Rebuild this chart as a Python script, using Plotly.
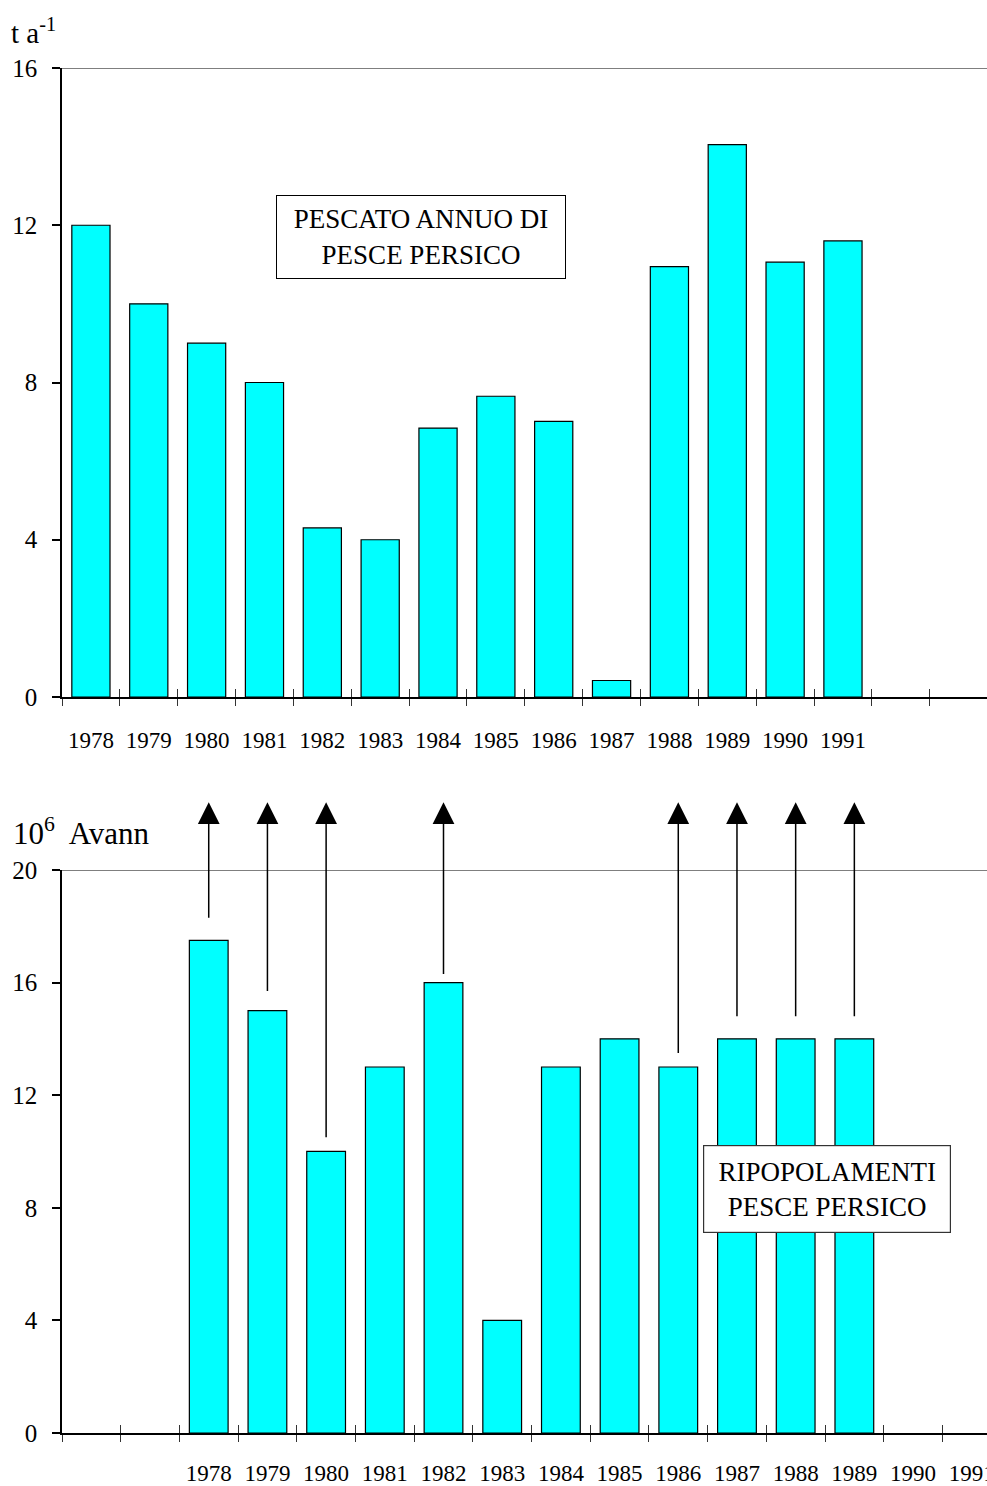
import plotly.graph_objects as go

# ---- data ----
catch_years = ["1978", "1979", "1980", "1981", "1982", "1983", "1984",
               "1985", "1986", "1987", "1988", "1989", "1990", "1991"]
catch_tons = [12.0, 10.0, 9.0, 8.0, 4.3, 4.0, 6.84, 7.65, 7.01, 0.42,
              10.95, 14.05, 11.06, 11.6]

stock_years = ["1978", "1979", "1980", "1981", "1982", "1983", "1984",
               "1985", "1986", "1987", "1988", "1989", "1990", "1991"]
stock_millions = [17.5, 15.0, 10.0, 13.0, 16.0, 4.0, 13.0, 14.0, 13.0,
                  14.0, 14.0, 14.0, None, None]

arrow_years = ["1978", "1979", "1980", "1982", "1986", "1987", "1988", "1989"]
arrow_tails = [18.0, 15.4, 10.2, 16.0, 13.2, 14.5, 14.5, 14.5]
arrow_tip = 22.4

top_cats = catch_years + [" ", "  "]
bot_cats = [" ", "  "] + stock_years

FONT = "Liberation Serif, Times New Roman, serif"
CYAN = "#00FFFF"

fig = go.Figure()
fig.add_trace(go.Bar(x=catch_years, y=catch_tons, xaxis="x", yaxis="y",
                     marker=dict(color=CYAN, line=dict(color="black", width=1.2)),
                     showlegend=False))
fig.add_trace(go.Bar(x=stock_years, y=stock_millions, xaxis="x2", yaxis="y2",
                     marker=dict(color=CYAN, line=dict(color="black", width=1.2)),
                     showlegend=False))
# invisible helpers so the overlay tick axes are drawn
fig.add_trace(go.Scatter(x=[0], y=[0], xaxis="x3", yaxis="y", mode="markers",
                         marker=dict(opacity=0), showlegend=False, hoverinfo="skip"))
fig.add_trace(go.Scatter(x=[0], y=[0], xaxis="x4", yaxis="y2", mode="markers",
                         marker=dict(opacity=0), showlegend=False, hoverinfo="skip"))

top_range = [-0.5, 15.49]
bot_range = [-0.5, 15.26]
top_dom = [0.5392, 1.0]
bot_dom = [0.0, 0.4125]

xcommon = dict(type="category", showline=True, linecolor="black", linewidth=2,
               showgrid=False, zeroline=False, ticks="outside", tickson="boundaries",
               ticklen=7, tickcolor="#333", tickwidth=1, dtick=1, automargin=False,
               tickfont=dict(family=FONT, size=23, color="black"))
ycommon = dict(showline=True, linecolor="black", linewidth=1.5, showgrid=False,
               zeroline=False, ticks="outside", ticklen=8, tickcolor="black",
               tickwidth=1.5, dtick=4, automargin=False,
               tickfont=dict(family=FONT, size=25, color="black"),
               ticklabelstandoff=10)
overlay = dict(type="linear", showline=False, showgrid=False, zeroline=False,
               showticklabels=False, ticks="inside", ticklen=8, tickcolor="#333",
               tickwidth=1, tickmode="array", fixedrange=True, automargin=False)

fig.update_layout(
    width=987, height=1486,
    margin=dict(l=62, r=0, t=68, b=53, autoexpand=False),
    paper_bgcolor="white", plot_bgcolor="white",
    bargap=0.34,
    font=dict(family=FONT, color="black"),
    xaxis=dict(**xcommon, anchor="y", domain=[0, 1], range=top_range,
               categoryorder="array", categoryarray=top_cats, ticklabelstandoff=21),
    yaxis=dict(**ycommon, anchor="x", domain=top_dom, range=[0, 16]),
    xaxis2=dict(**xcommon, anchor="y2", domain=[0, 1], range=bot_range,
                categoryorder="array", categoryarray=bot_cats, ticklabelstandoff=18),
    yaxis2=dict(**ycommon, anchor="x2", domain=bot_dom, range=[0, 20]),
    xaxis3=dict(**overlay, overlaying="x", anchor="y", range=top_range,
                tickvals=[k - 0.5 for k in range(len(top_cats) + 1)]),
    xaxis4=dict(**overlay, overlaying="x2", anchor="y2", range=bot_range,
                tickvals=[k - 0.5 for k in range(len(bot_cats) + 1)]),
)

# top border lines
fig.add_shape(type="line", xref="x domain", yref="y", x0=0, x1=1, y0=16, y1=16,
              line=dict(color="black", width=1.2))
fig.add_shape(type="line", xref="x2 domain", yref="y2", x0=0, x1=1, y0=20, y1=20,
              line=dict(color="black", width=1.2))

annotations = [
    dict(text="t a<sup>-1</sup>", xref="paper", yref="paper", x=-0.057, y=1.027,
         xanchor="left", yanchor="middle", showarrow=False,
         font=dict(family=FONT, size=29, color="black")),
    dict(text="10<sup>6</sup>  Avann", xref="paper", yref="paper", x=-0.055, y=0.4403,
         xanchor="left", yanchor="middle", showarrow=False,
         font=dict(family=FONT, size=31, color="black")),
    dict(text="PESCATO ANNUO DI<br>PESCE PERSICO", xref="paper", yref="paper",
         x=0.388, y=0.876, xanchor="center", yanchor="middle", showarrow=False,
         width=288, height=82, bgcolor="white", bordercolor="black", borderwidth=1,
         borderpad=0, font=dict(family=FONT, size=27, color="black")),
    dict(text="RIPOPOLAMENTI<br>PESCE PERSICO", xref="paper", yref="paper",
         x=0.827, y=0.1788, xanchor="center", yanchor="middle", showarrow=False,
         width=246, height=86, bgcolor="white", bordercolor="#333", borderwidth=1.2,
         borderpad=0, font=dict(family=FONT, size=27, color="black")),
]
for yr, tail in zip(arrow_years, arrow_tails):
    idx = bot_cats.index(yr)
    annotations.append(dict(
        x=idx, y=arrow_tip, xref="x2", yref="y2",
        ax=idx, ay=tail, axref="x2", ayref="y2",
        text=" ", showarrow=True, arrowhead=2, arrowsize=2.9, arrowwidth=1.5,
        arrowcolor="black", standoff=0, startstandoff=0))
fig.update_layout(annotations=annotations)

fig.write_html(
    "out.html",
    config={"displayModeBar": False},
    post_script="document.body.style.margin='0';document.body.style.overflow='hidden';",
)
